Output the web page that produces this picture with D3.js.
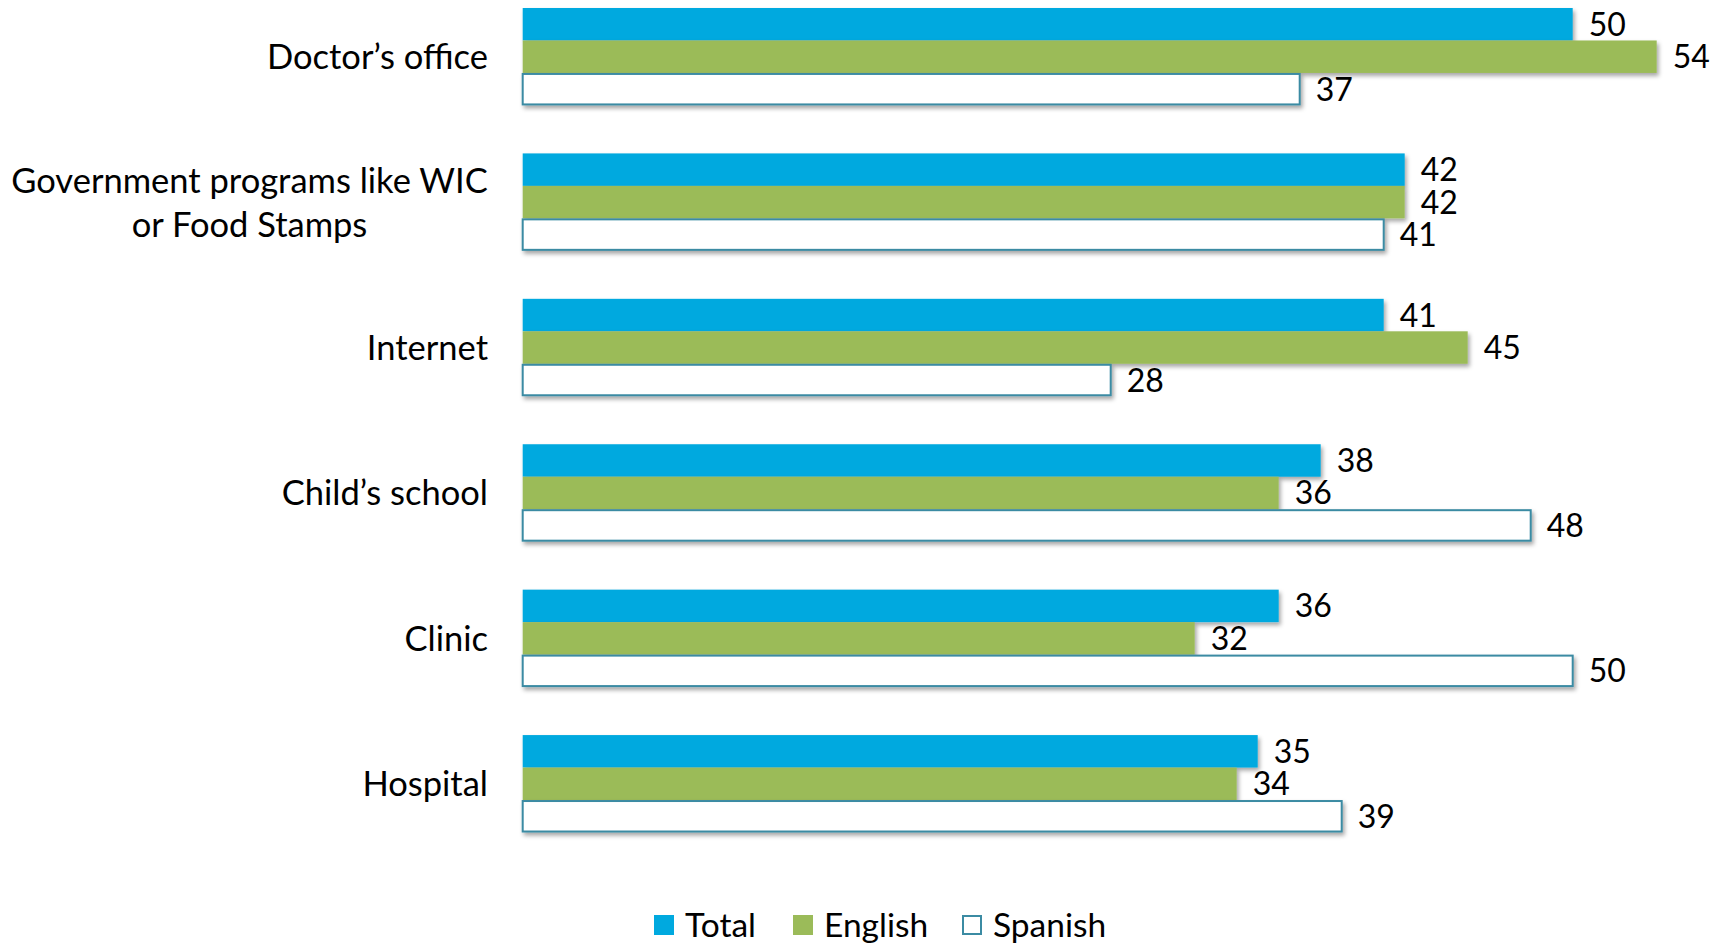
<!DOCTYPE html>
<html>
<head>
<meta charset="utf-8">
<script src="https://cdn.jsdelivr.net/npm/d3@7"></script>
<style>
  body { margin: 0; background: #fff; }
  text { font-family: Lato, "Open Sans", sans-serif; fill: #000; }
</style>
</head>
<body>
<div id="chart"></div>
<script>
// data
const categories = ["Doctor\u2019s office", "Government programs like WIC|or Food Stamps", "Internet", "Child\u2019s school", "Clinic", "Hospital"];
const seriesNames = ["Total", "English", "Spanish"];
const totalValues = [50, 42, 41, 38, 36, 35];
const englishValues = [54, 42, 45, 36, 32, 34];
const spanishValues = [37, 41, 28, 48, 50, 39];

//variables
const width = 1727, height = 944;
const valueFont = 32, labelFont = 34.5, legendFont = 33.5;
const colors = {Total: "#00a9df", English: "#9bbb59", Spanish: "#ffffff"};
const spanishStroke = "#3b8ba3";

const rows = categories.map((c, i) => ({
  category: c,
  values: [
    {key: "Total", value: totalValues[i]},
    {key: "English", value: englishValues[i]},
    {key: "Spanish", value: spanishValues[i]}
  ]
}));

const svg = d3.select("#chart")
  .append("svg")
  .attr("width", width)
  .attr("height", height);

// shadow under the bars
const filter = svg.append("defs").append("filter")
  .attr("id", "shadow")
  .attr("x", "-5%").attr("y", "-20%")
  .attr("width", "110%").attr("height", "160%");
filter.append("feDropShadow")
  .attr("dx", 2).attr("dy", 3)
  .attr("stdDeviation", 2)
  .attr("flood-color", "#000")
  .attr("flood-opacity", 0.35);

//scales
const x = d3.scaleLinear().domain([0, 1]).range([522.7, 543.7]);
const y0 = d3.scaleBand()
  .domain(categories)
  .range([8, 832.5])
  .paddingInner(0.33)
  .paddingOuter(0);
const y1 = d3.scaleBand()
  .domain(seriesNames)
  .range([0, y0.bandwidth()])
  .padding(0);

//groups
const groups = svg.selectAll("g.group")
  .data(rows)
  .join("g")
  .attr("class", "group")
  .attr("transform", d => `translate(0, ${y0(d.category)})`);

groups.selectAll("rect")
  .data(d => d.values)
  .join("rect")
  .attr("x", x(0))
  .attr("y", d => y1(d.key) + (d.key === "Spanish" ? 1 : 0))
  .attr("width", d => x(d.value) - x(0))
  .attr("height", d => y1.bandwidth() - (d.key === "Spanish" ? 2 : 0))
  .attr("fill", d => colors[d.key])
  .attr("stroke", d => d.key === "Spanish" ? spanishStroke : "none")
  .attr("stroke-width", 2)
  .attr("filter", "url(#shadow)");

// value labels
groups.selectAll("text.value")
  .data(d => d.values)
  .join("text")
  .attr("class", "value")
  .attr("x", d => x(d.value) + 16)
  .attr("y", d => y1(d.key) + y1.bandwidth() / 2)
  .attr("dy", "0.36em")
  .style("font-size", valueFont + "px")
  .text(d => d.value);

// category labels
groups.each(function(d) {
  const lines = d.category.split("|");
  const lh = 44;
  const t = d3.select(this).append("text")
    .attr("text-anchor", lines.length > 1 ? "middle" : "end")
    .style("font-size", labelFont + "px");
  lines.forEach((line, i) => {
    t.append("tspan")
      .attr("x", lines.length > 1 ? 249.5 : 488)
      .attr("y", y0.bandwidth() / 2 + (i - (lines.length - 1) / 2) * lh)
      .attr("dy", "0.36em")
      .text(line);
  });
});

//legend
const legendX = [654, 793, 962];
const legend = svg.append("g").attr("class", "legend");
const items = legend.selectAll("g")
  .data(seriesNames)
  .join("g")
  .attr("transform", (d, i) => `translate(${legendX[i]}, 915)`);
items.append("rect")
  .attr("x", d => d === "Spanish" ? 1 : 0)
  .attr("y", d => d === "Spanish" ? 1 : 0)
  .attr("width", d => d === "Spanish" ? 18 : 20)
  .attr("height", d => d === "Spanish" ? 18 : 20)
  .attr("fill", d => colors[d])
  .attr("stroke", d => d === "Spanish" ? spanishStroke : "none")
  .attr("stroke-width", 2);
items.append("text")
  .attr("x", 31)
  .attr("y", 10)
  .attr("dy", "0.36em")
  .style("font-size", legendFont + "px")
  .text(d => d);
</script>
</body>
</html>
